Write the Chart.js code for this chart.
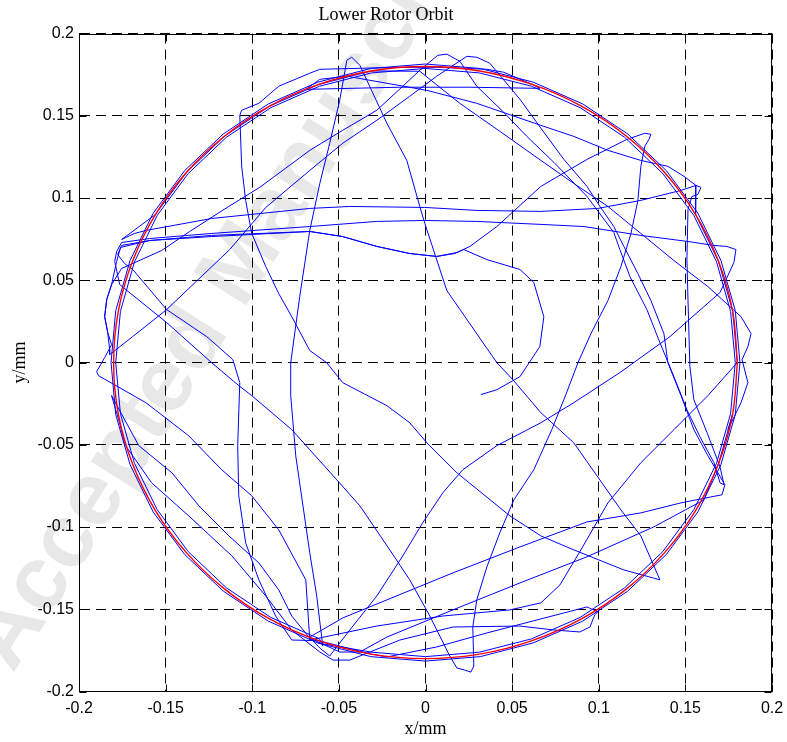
<!DOCTYPE html>
<html>
<head>
<meta charset="utf-8">
<script src="https://cdn.jsdelivr.net/npm/chart.js@4.4.1/dist/chart.umd.min.js"></script>
<style>
html,body{margin:0;padding:0;background:#ffffff;}
#wrap{width:787px;height:742px;position:relative;}
</style>
</head>
<body>
<div id="wrap"><canvas id="c" width="787" height="742"></canvas></div>
<script>
const chartTitle = 'Lower Rotor Orbit';
const xAxisTitle = 'x/mm';
const yAxisTitle = 'y/mm';
const watermarkText = 'Accepted Manuscript';

const xTickValues = [-0.2, -0.15, -0.1, -0.05, 0, 0.05, 0.1, 0.15, 0.2];
const xTickLabels = ['-0.2', '-0.15', '-0.1', '-0.05', '0', '0.05', '0.1', '0.15', '0.2'];
const yTickValues = [-0.2, -0.15, -0.1, -0.05, 0, 0.05, 0.1, 0.15, 0.2];
const yTickLabels = ['-0.2', '-0.15', '-0.1', '-0.05', '0', '0.05', '0.1', '0.15', '0.2'];

// reference circle (radius 0.18 mm)
const circleX = [0.18,0.1773,0.1691,0.1559,0.1379,0.1157,0.09,0.0616,0.0313,0,-0.0313,-0.0616,-0.09,-0.1157,-0.1379,-0.1559,-0.1691,-0.1773,-0.18,-0.1773,-0.1691,-0.1559,-0.1379,-0.1157,-0.09,-0.0616,-0.0313,0,0.0313,0.0616,0.09,0.1157,0.1379,0.1559,0.1691,0.1773,0.18];
const circleY = [0,0.0313,0.0616,0.09,0.1157,0.1379,0.1559,0.1691,0.1773,0.18,0.1773,0.1691,0.1559,0.1379,0.1157,0.09,0.0616,0.0313,0,-0.0313,-0.0616,-0.09,-0.1157,-0.1379,-0.1559,-0.1691,-0.1773,-0.18,-0.1773,-0.1691,-0.1559,-0.1379,-0.1157,-0.09,-0.0616,-0.0313,0];

const orbitPoints = [
[-0.0621,-0.1705],[-0.0316,-0.1788],[0,-0.1815],[0.0316,-0.1788],[0.0621,-0.1705],[0.0908,-0.1572],[0.1167,-0.1390],[0.1390,-0.1167],[0.1572,-0.0908],[0.1705,-0.0621],[0.1788,-0.0316],[0.1815,0],[0.1788,0.0316],[0.1705,0.0621],[0.1572,0.0908],[0.1390,0.1167],[0.1167,0.1390],[0.0908,0.1572],[0.0621,0.1705],[0.0316,0.1788],[0,0.1815],[-0.0316,0.1788],[-0.0621,0.1705],[-0.0908,0.1572],[-0.1167,0.1390],[-0.1390,0.1167],[-0.1572,0.0908],[-0.1705,0.0621],[-0.1788,0.0316],[-0.1815,0],[-0.1788,-0.0316],[-0.1705,-0.0621],[-0.1572,-0.0908],[-0.1390,-0.1167],[-0.1167,-0.1390],[-0.0908,-0.1572],[-0.0621,-0.1705],
[-0.0311,-0.1761],[0,-0.1788],[0.0311,-0.1761],[0.0612,-0.1680],[0.0894,-0.1549],[0.1149,-0.1370],[0.1370,-0.1149],[0.1549,-0.0894],[0.1680,-0.0612],[0.1761,-0.0311],[0.1788,0],[0.1761,0.0311],[0.1680,0.0612],[0.1549,0.0894],[0.1370,0.1149],[0.1149,0.1370],[0.0894,0.1549],[0.0612,0.1680],[0.0311,0.1761],[0,0.1788],[-0.0311,0.1761],[-0.0612,0.1680],[-0.0894,0.1549],[-0.1149,0.1370],[-0.1370,0.1149],[-0.1549,0.0894],[-0.1680,0.0612],[-0.1761,0.0311],[-0.1788,0],[-0.1761,-0.0311],[-0.1680,-0.0612],[-0.1549,-0.0894],[-0.1370,-0.1149],[-0.1149,-0.1370],[-0.0894,-0.1549],[-0.0612,-0.1680],
[-0.0593,-0.1723],[-0.0628,-0.1419],[-0.0668,-0.1157],[-0.0749,-0.0567],[-0.0778,-0.0201],[-0.0778,-0.0001],[-0.0726,0.0401],[-0.0668,0.0803],[-0.0610,0.1089],[-0.0553,0.1333],[-0.0495,0.1595],[-0.0454,0.1838],[-0.0426,0.1856],
[-0.0379,0.1808],[-0.0223,0.1455],[-0.0108,0.1229],[-0.0033,0.0949],[-0.0004,0.0846],[0.0123,0.0438],[0.0412,-0.0001],[0.0504,-0.0104],[0.0666,-0.0305],[0.0856,-0.0488],[0.1128,-0.0896],[0.1243,-0.1054],[0.1353,-0.1321],
[0.1145,-0.1261],[0.0856,-0.1139],[0.0666,-0.1054],[0.0487,-0.0932],[0.0181,-0.0670],[0.0008,-0.0488],[-0.0091,-0.0366],[-0.0223,-0.0262],[-0.0478,-0.0122],[-0.0570,-0.0001],[-0.0668,0.0073],[-0.0772,0.0279],[-0.0847,0.0419],[-0.0922,0.0584],[-0.1003,0.0785],[-0.1038,0.0986],[-0.1061,0.1193],[-0.1072,0.1503],[-0.1061,0.1534],
[-0.0962,0.1576],[-0.0847,0.1680],[-0.0668,0.1759],[-0.0610,0.1783],[-0.0148,0.1795],[0.0065,0.1795],[0.0354,0.1783],[0.0452,0.1765],[0.0616,0.1691],
[0.0660,0.1667],[0.0256,0.1674],[-0.0148,0.1674],[-0.0691,0.1661],
[-0.0610,0.1722],[-0.0454,0.1741],[0.0008,0.1655],[0.0296,0.1576],[0.0666,0.1442],[0.0856,0.1375],[0.1053,0.1290],[0.1243,0.1229],[0.1399,0.1193],[0.1492,0.1132],[0.1561,0.1077],
[0.1590,0.1065],[0.1572,0.1022],[0.1538,0.1010],
[0.1515,0.0931],[0.1509,0.0626],[0.1515,0.0383],[0.1526,-0.0025],[0.1549,-0.0226],[0.1625,-0.0426],[0.1700,-0.0634],[0.1723,-0.0743],
[0.1700,-0.0731],[0.1665,-0.0609],[0.1584,-0.0451],[0.1509,-0.0287],[0.1434,-0.0086],[0.1353,0.0121],[0.1278,0.0322],[0.1180,0.0523],[0.1122,0.0687],[0.1087,0.0791],[0.0932,0.1010],[0.0741,0.1217],[0.0585,0.1375],[0.0452,0.1521],[0.0296,0.1680],[0.0198,0.1832],[0.0123,0.1875],[0.0071,0.1868],
[-0.0033,0.1777],[-0.0131,0.1680],[-0.0281,0.1534],[-0.0478,0.1412],[-0.0668,0.1290],[-0.0957,0.1065],[-0.1136,0.0949],[-0.1361,0.0797],[-0.1523,0.0681],[-0.1754,0.0572],
[-0.1812,0.0474],[-0.1840,0.0383],[-0.1852,0.0279],[-0.1834,0.0182],[-0.1823,0.0079],
[-0.1823,0.0048],[-0.1690,0.0158],[-0.1494,0.0322],[-0.1130,0.0687],[-0.0922,0.0943],[-0.0668,0.1168],[-0.0478,0.1333],[-0.0281,0.1473],[-0.0091,0.1619],[0.0065,0.1741],[0.0239,0.1862],[0.0296,0.1856],[0.0371,0.1820],[0.0429,0.1747],
[0.0545,0.1601],[0.0683,0.1400],[0.0799,0.1235],[0.0932,0.1071],[0.1007,0.0949],[0.1087,0.0827],[0.1145,0.0706],[0.1226,0.0541],[0.1301,0.0377],[0.1376,0.0176],[0.1399,-0.0001],[0.1475,-0.0201],[0.1549,-0.0408],[0.1630,-0.0567],[0.1688,-0.0670],
[0.1728,-0.0743],[0.1711,-0.0804],
[0.1475,-0.0853],[0.1243,-0.0914],[0.0932,-0.0969],[0.0545,-0.1121],[0.0158,-0.1279],[-0.0223,-0.1443],[-0.0478,-0.1553],[-0.0668,-0.1669],[-0.0610,-0.1736],
[-0.0553,-0.1784],[-0.0437,-0.1626],[-0.0281,-0.1419],[-0.0131,-0.1175],[-0.0016,-0.0974],[0.0100,-0.0792],[0.0215,-0.0652],[0.0412,-0.0505],[0.0666,-0.0366],[0.0856,-0.0244],[0.1122,-0.0061],[0.1411,0.0158],[0.1700,0.0426],[0.1780,0.0608],[0.1792,0.0687],
[0.1740,0.0706],[0.1665,0.0712],[0.1515,0.0736],[0.1243,0.0773],[0.0914,0.0827],[0.0666,0.0840],[0.0296,0.0858],[-0.0004,0.0864],[-0.0281,0.0858],[-0.0668,0.0827],[-0.1234,0.0785],[-0.1592,0.0754],[-0.1754,0.0730],
[-0.1783,0.0675],[-0.1794,0.0614],
[-0.1765,0.0474],[-0.1494,0.0243],[-0.1234,-0.0001],[-0.1078,-0.0140],[-0.1003,-0.0201],[-0.0772,-0.0408],[-0.0668,-0.0530],[-0.0512,-0.0713],[-0.0379,-0.0871],[-0.0206,-0.1139],[-0.0091,-0.1321],[0.0025,-0.1541],[0.0140,-0.1784],[0.0181,-0.1857],[0.0227,-0.1870],[0.0262,-0.1882],[0.0279,-0.1845],[0.0273,-0.1608],
[0.0296,-0.1443],[0.0354,-0.1243],[0.0429,-0.1035],[0.0510,-0.0835],[0.0625,-0.0652],[0.0729,-0.0408],[0.0810,-0.0195],[0.0880,-0.0001],[0.0955,0.0176],[0.1053,0.0377],[0.1128,0.0584],[0.1186,0.0785],[0.1226,0.0986],[0.1243,0.1193],[0.1266,0.1315],[0.1290,0.1357],[0.1301,0.1388],[0.1266,0.1394],[0.1163,0.1357],
[0.0932,0.1235],[0.0666,0.1071],[0.0412,0.0827],[0.0256,0.0706],[0.0169,0.0663],[0.0065,0.0645],[-0.0091,0.0663],[-0.0281,0.0706],[-0.0478,0.0766],[-0.0668,0.0797],[-0.1234,0.0766],[-0.1592,0.0742],[-0.1754,0.0712],
[-0.1777,0.0657],[-0.1737,0.0602],
[-0.1690,0.0566],[-0.1494,0.0322],[-0.1263,0.0158],[-0.1112,0.0018],[-0.1072,-0.0122],[-0.1084,-0.0505],[-0.1078,-0.0810],[-0.1038,-0.1096],[-0.0962,-0.1321],[-0.0865,-0.1541],[-0.0772,-0.1687],
[-0.0616,-0.1691],[-0.0313,-0.1773],
[-0.0223,-0.1790],[0.0065,-0.1729],[0.0354,-0.1644],[0.0643,-0.1565],[0.0932,-0.1486],[0.0995,-0.1516],
[0.0977,-0.1534],[0.0949,-0.1608],[0.0891,-0.1638],
[0.0741,-0.1626],[0.0545,-0.1602],[0.0158,-0.1608],[-0.0148,-0.1687],[-0.0437,-0.1809],[-0.0534,-0.1809],[-0.0610,-0.1760],
[-0.0772,-0.1626],[-0.0922,-0.1419],[-0.1118,-0.1175],[-0.1367,-0.0932],[-0.1581,-0.0731],[-0.1731,-0.0505],[-0.1771,-0.0348],
[-0.1812,-0.0201],[-0.1655,-0.0505],[-0.1464,-0.0670],[-0.1308,-0.0871],[-0.1135,-0.1054],[-0.0962,-0.1218],[-0.0847,-0.1382],[-0.0772,-0.1541],[-0.0668,-0.1675],[-0.0495,-0.1760],
[-0.0379,-0.1760],[-0.0223,-0.1669],[0.0158,-0.1504],[0.0545,-0.1340],[0.0932,-0.1181],[0.1318,-0.0999],[0.1607,-0.0835],
[0.1691,-0.0616],[0.1773,-0.0313],
[0.1746,-0.0408],[0.1821,-0.0244],[0.1861,-0.0122],[0.1827,0.0018],[0.1861,0.0097],[0.1879,0.0176],[0.1821,0.0279],
[0.1630,0.0462],[0.1434,0.0620],[0.1243,0.0785],[0.1053,0.0949],[0.0856,0.1089],[0.0666,0.1229],[0.0429,0.1406],[0.0198,0.1576],[0.0025,0.1722],[-0.0033,0.1771],
[-0.0313,0.1773],[-0.0616,0.1691],[-0.0900,0.1559],[-0.1157,0.1379],[-0.1379,0.1157],[-0.1559,0.0900],
[-0.1754,0.0748],[-0.1679,0.0785],[-0.1614,0.0803],[-0.1234,0.0876],[-0.0668,0.0937],[-0.0437,0.0949],[-0.0004,0.0943],[0.0296,0.0925],[0.0666,0.0919],[0.0995,0.0937],[0.1243,0.0986],[0.1475,0.1047],[0.1561,0.1077],
[0.1559,0.0900],[0.1691,0.0616],[0.1773,0.0313],[0.1800,0],
[0.1630,-0.0201],[0.1434,-0.0408],[0.1243,-0.0609],[0.1053,-0.0853],[0.0897,-0.1139],[0.0776,-0.1352],[0.0666,-0.1461],[0.0487,-0.1504],[0.0100,-0.1541],[-0.0281,-0.1602],[-0.0668,-0.1687],
[-0.0691,-0.1321],[-0.0847,-0.1017],[-0.1003,-0.0810],[-0.1176,-0.0652],[-0.1367,-0.0445],[-0.1614,-0.0244],[-0.1887,-0.0080],[-0.1898,-0.0055],
[-0.1852,0.0030],[-0.1812,0.0109],[-0.1834,0.0182],[-0.1852,0.0279],[-0.1840,0.0383],[-0.1812,0.0474],[-0.1783,0.0614],[-0.1760,0.0700],
[-0.1592,0.0742],[-0.1234,0.0773],[-0.0668,0.0797],[-0.0478,0.0766],[-0.0281,0.0706],[-0.0091,0.0663],[0.0065,0.0645],[0.0181,0.0669],[0.0221,0.0687],[0.0354,0.0626],[0.0545,0.0566],[0.0625,0.0487],[0.0683,0.0279],[0.0660,0.0097],[0.0545,-0.0086],[0.0412,-0.0165],[0.0319,-0.0195]
];

const serif = '"Liberation Serif", "Times New Roman", Times, serif';
const sans = '"Liberation Sans", Arial, Helvetica, sans-serif';

const watermarkPlugin = {
  id: 'watermark',
  beforeDraw(chart) {
    const ctx = chart.ctx;
    ctx.save();
    ctx.translate(235, 276);
    ctx.rotate(-57.7 * Math.PI / 180);
    ctx.font = 'bold 90px ' + sans;
    ctx.fillStyle = '#e8e8e8';
    ctx.textAlign = 'center';
    ctx.textBaseline = 'middle';
    ctx.fillText(watermarkText, 0, 0);
    ctx.restore();
  }
};

const framePlugin = {
  id: 'frame',
  afterDatasetsDraw(chart) {
    const {ctx, chartArea: a, scales} = chart;
    ctx.save();
    ctx.strokeStyle = '#000';
    ctx.lineWidth = 1;
    ctx.setLineDash([]);
    const L = Math.round(a.left) + 0.5, R = Math.round(a.right) - 0.5;
    const T = Math.round(a.top) + 0.5, B = Math.round(a.bottom) - 0.5;
    ctx.strokeRect(L, T, R - L, B - T);
    ctx.beginPath();
    xTickValues.forEach(v => {
      const px = Math.round(scales.x.getPixelForValue(v)) + 0.5;
      ctx.moveTo(px, B); ctx.lineTo(px, B - 7);
      ctx.moveTo(px, T); ctx.lineTo(px, T + 7);
    });
    yTickValues.forEach(v => {
      const py = Math.round(scales.y.getPixelForValue(v)) + 0.5;
      ctx.moveTo(L, py); ctx.lineTo(L + 7, py);
      ctx.moveTo(R, py); ctx.lineTo(R - 7, py);
    });
    ctx.stroke();
    ctx.restore();
  }
};

const circleData = circleX.map((x, i) => ({x: x, y: circleY[i]}));
const orbitData = orbitPoints.map(p => ({x: p[0], y: p[1]}));

new Chart(document.getElementById('c'), {
  type: 'scatter',
  data: {
    datasets: [
      {
        label: 'Clearance circle',
        data: circleData,
        showLine: true,
        borderColor: '#ff0000',
        borderWidth: 1.4,
        pointRadius: 0,
        tension: 0.35,
        fill: false
      },
      {
        label: 'Orbit',
        data: orbitData,
        showLine: true,
        borderColor: '#0000ff',
        borderWidth: 1,
        pointRadius: 0,
        tension: 0,
        fill: false
      }
    ]
  },
  options: {
    responsive: false,
    animation: false,
    events: [],
    layout: {padding: {left: 0, right: 15, top: 0, bottom: 0}},
    plugins: {
      legend: {display: false},
      tooltip: {enabled: false},
      title: {
        display: true,
        text: chartTitle,
        color: '#000',
        font: {family: serif, size: 18, weight: 'normal'},
        padding: {top: 4, bottom: 8}
      }
    },
    scales: {
      x: {
        type: 'linear',
        min: -0.2, max: 0.2,
        afterBuildTicks: axis => { axis.ticks = xTickValues.map(v => ({value: v})); },
        afterFit: axis => { axis.height = 50.5; axis.paddingLeft = 0; axis.paddingRight = 0; },
        ticks: {
          color: '#000',
          font: {family: sans, size: 16},
          padding: 7,
          maxRotation: 0,
          autoSkip: false,
          callback: (v, i) => xTickLabels[i]
        },
        grid: {color: '#000', lineWidth: 1, drawTicks: false},
        border: {display: true, color: '#000', width: 1, dash: [10, 6]},
        title: {
          display: true, text: xAxisTitle, color: '#000',
          font: {family: serif, size: 18, weight: 'normal'},
          padding: {top: 0, bottom: 2}
        }
      },
      y: {
        type: 'linear',
        min: -0.2, max: 0.2,
        afterBuildTicks: axis => { axis.ticks = yTickValues.map(v => ({value: v})); },
        afterFit: axis => { axis.width = 79; axis.paddingTop = 0; axis.paddingBottom = 0; },
        ticks: {
          color: '#000',
          font: {family: sans, size: 16},
          padding: 5,
          autoSkip: false,
          callback: (v, i) => yTickLabels[i]
        },
        grid: {color: '#000', lineWidth: 1, drawTicks: false},
        border: {display: true, color: '#000', width: 1, dash: [10, 6]},
        title: {
          display: true, text: yAxisTitle, color: '#000',
          font: {family: serif, size: 18, weight: 'normal'},
          padding: {top: 9, bottom: 0}
        }
      }
    }
  },
  plugins: [watermarkPlugin, framePlugin]
});
</script>
</body>
</html>
